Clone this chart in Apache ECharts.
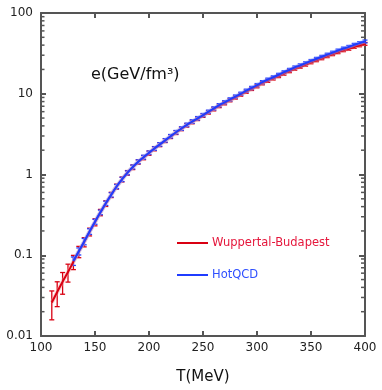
<!DOCTYPE html>
<html>
<head>
<meta charset="utf-8">
<script src="https://cdn.jsdelivr.net/npm/echarts@6/dist/echarts.min.js"></script>
<style>
  html, body { margin: 0; padding: 0; background: #fff; }
  #chart { width: 382px; height: 390px; }
</style>
</head>
<body>
<div id="chart"></div>
<script>
// Data
const redT = [110,115,120,125,130,135,140,145,150,155,160,165,170,175,180,185,190,195,200,205,210,215,220,225,230,235,240,245,250,255,260,265,270,275,280,285,290,295,300,305,310,315,320,325,330,335,340,345,350,355,360,365,370,375,380,385,390,395,400];
const redE = [0.026,0.035,0.047,0.062,0.083,0.111,0.146,0.195,0.257,0.339,0.437,0.56,0.71,0.87,1.05,1.23,1.43,1.62,1.84,2.09,2.34,2.63,2.95,3.31,3.67,4.07,4.47,4.9,5.37,5.89,6.46,7.08,7.67,8.32,9.0,9.77,10.6,11.5,12.4,13.5,14.5,15.5,16.6,17.8,19.1,20.4,21.6,22.9,24.5,26.0,27.5,29.2,30.9,32.7,34.6,36.0,38.0,39.8,41.5];
const redRelErr = [0.39,0.34,0.3,0.25,0.2,0.16,0.13,0.11,0.1,0.09,0.08,0.075,0.07,0.07,0.065,0.065,0.06,0.06,0.06,0.06,0.055,0.055,0.055,0.055,0.05,0.05,0.05,0.05,0.05,0.05,0.05,0.05,0.05,0.045,0.045,0.045,0.045,0.045,0.045,0.045,0.045,0.045,0.045,0.045,0.045,0.04,0.04,0.04,0.04,0.04,0.04,0.04,0.04,0.04,0.04,0.04,0.04,0.04,0.04];

const blueT = [130,135,140,145,150,155,160,165,170,175,180,185,190,195,200,205,210,215,220,225,230,235,240,245,250,255,260,265,270,275,280,285,290,295,300,305,310,315,320,325,330,335,340,345,350,355,360,365,370,375,380,385,390,395,400];
const blueE = [0.085,0.112,0.148,0.197,0.26,0.34,0.44,0.56,0.71,0.87,1.05,1.24,1.44,1.64,1.86,2.1,2.36,2.65,2.98,3.34,3.71,4.12,4.53,4.97,5.45,5.99,6.58,7.22,7.84,8.51,9.23,10.0,10.9,11.8,12.8,13.9,15.0,16.0,17.2,18.5,19.8,21.2,22.5,23.9,25.5,27.1,28.7,30.5,32.3,34.3,36.3,38.1,40.4,42.4,44.4];
const blueRelErr = [0.12,0.1,0.09,0.08,0.07,0.065,0.06,0.06,0.06,0.06,0.055,0.055,0.055,0.055,0.05,0.05,0.05,0.05,0.05,0.05,0.05,0.05,0.05,0.05,0.045,0.045,0.045,0.045,0.045,0.045,0.045,0.045,0.045,0.045,0.045,0.045,0.04,0.04,0.04,0.04,0.04,0.04,0.04,0.04,0.04,0.04,0.04,0.04,0.04,0.04,0.04,0.04,0.04,0.04,0.04];

const yMinorTicks = [0.02,0.03,0.04,0.05,0.06,0.07,0.08,0.09,0.2,0.3,0.4,0.5,0.6,0.7,0.8,0.9,2,3,4,5,6,7,8,9,20,30,40,50,60,70,80,90];

const redColor = "#d90012";
const blueColor = "#1f3cff";
const axisColor = "#555";
const font = "DejaVu Sans";

function pairs(xs, ys) {
  return xs.map((x, i) => [x, ys[i]]);
}
function errData(xs, ys, rel) {
  return xs.map((x, i) => {
    const r = rel[i] != null ? rel[i] : 0.04;
    return [x, ys[i] * (1 - r), ys[i] * (1 + r)];
  });
}
function errRender(color) {
  return function (params, api) {
    const lo = api.coord([api.value(0), api.value(1)]);
    const hi = api.coord([api.value(0), api.value(2)]);
    const w = 2.5;
    const st = { stroke: color, lineWidth: 1.3 };
    return {
      type: "group",
      children: [
        { type: "line", shape: { x1: lo[0], y1: lo[1], x2: hi[0], y2: hi[1] }, style: st },
        { type: "line", shape: { x1: lo[0] - w, y1: lo[1], x2: lo[0] + w, y2: lo[1] }, style: st },
        { type: "line", shape: { x1: hi[0] - w, y1: hi[1], x2: hi[0] + w, y2: hi[1] }, style: st },
      ],
    };
  };
}

const chart = echarts.init(document.getElementById("chart"), null, { renderer: "canvas" });

const xAxisBase = {
  type: "value",
  min: 100,
  max: 400,
  interval: 50,
  axisLine: { show: true, onZero: false, lineStyle: { color: axisColor, width: 2 } },
  axisTick: { show: true, inside: true, length: 5, lineStyle: { color: axisColor, width: 2 } },
  splitLine: { show: false },
};
const yAxisBase = {
  type: "log",
  logBase: 10,
  min: 0.01,
  max: 100,
  axisLine: { show: true, onZero: false, lineStyle: { color: axisColor, width: 2 } },
  axisTick: { show: true, inside: true, length: 5, lineStyle: { color: axisColor, width: 2 } },
  splitLine: { show: false },
};

const option = {
  animation: false,
  grid: { left: 41, right: 17, top: 13, bottom: 53 },
  title: {
    text: "e(GeV/fm³)",
    left: 86,
    top: 62,
    textStyle: { fontFamily: font, fontSize: 16, fontWeight: "normal", color: "#111" },
  },
  legend: {
    orient: "vertical",
    left: 172,
    top: 232,
    itemWidth: 31,
    itemHeight: 2,
    itemGap: 20,
    icon: "rect",
    selectedMode: false,
    textStyle: { fontFamily: font, fontSize: 11.5, padding: [0, 0, 0, -1] },
    data: [
      { name: "Wuppertal-Budapest", textStyle: { color: "#e5173c" } },
      { name: "HotQCD", textStyle: { color: "#2f50ff" } },
    ],
  },
  xAxis: [
    Object.assign({}, xAxisBase, {
      position: "bottom",
      name: "T(MeV)",
      nameLocation: "middle",
      nameGap: 34,
      nameTextStyle: { fontFamily: font, fontSize: 15, color: "#111" },
      axisLabel: { fontFamily: font, fontSize: 12, color: "#222", margin: 6 },
    }),
    Object.assign({}, xAxisBase, { position: "top", axisLabel: { show: false } }),
  ],
  yAxis: [
    Object.assign({}, yAxisBase, {
      position: "left",
      axisLabel: {
        fontFamily: font,
        fontSize: 12,
        color: "#222",
        margin: 8,
        formatter: (v) => String(parseFloat(Number(v).toPrecision(3))),
      },
    }),
    Object.assign({}, yAxisBase, {
      position: "right",
      axisLabel: { show: false },
      axisTick: { show: true, inside: true, length: 6, lineStyle: { color: axisColor, width: 2 } },
    }),
  ],
  series: [
    // minor log ticks on left and right frame
    {
      type: "custom",
      silent: true,
      clip: false,
      xAxisIndex: 0,
      yAxisIndex: 0,
      data: yMinorTicks.map((v) => [100, v]),
      renderItem: function (params, api) {
        const l = api.coord([100, api.value(1)]);
        const r = api.coord([400, api.value(1)]);
        const st = { stroke: axisColor, lineWidth: 1.5 };
        return {
          type: "group",
          children: [
            { type: "line", shape: { x1: l[0], y1: l[1], x2: l[0] + 3.5, y2: l[1] }, style: st },
            { type: "line", shape: { x1: r[0] - 4, y1: r[1], x2: r[0], y2: r[1] }, style: st },
          ],
        };
      },
    },
    // red halo
    {
      name: "wb-band",
      type: "line",
      smooth: true,
      symbol: "none",
      silent: true,
      data: pairs(redT, redE),
      lineStyle: { color: "#f29a9a", width: 4, opacity: 0.45 },
    },
    {
      name: "Wuppertal-Budapest",
      type: "line",
      smooth: true,
      symbol: "none",
      color: redColor,
      itemStyle: { color: redColor },
      data: pairs(redT, redE),
      lineStyle: { color: redColor, width: 2 },
    },
    {
      name: "wb-err",
      type: "custom",
      silent: true,
      data: errData(redT, redE, redRelErr),
      renderItem: errRender(redColor),
    },
    // blue halo
    {
      name: "hot-band",
      type: "line",
      smooth: true,
      symbol: "none",
      silent: true,
      data: pairs(blueT, blueE),
      lineStyle: { color: "#8ea2ff", width: 4, opacity: 0.45 },
    },
    {
      name: "HotQCD",
      type: "line",
      smooth: true,
      symbol: "none",
      color: blueColor,
      itemStyle: { color: blueColor },
      data: pairs(blueT, blueE),
      lineStyle: { color: blueColor, width: 2 },
    },
    {
      name: "hot-err",
      type: "custom",
      silent: true,
      data: errData(blueT, blueE, blueRelErr),
      renderItem: errRender(blueColor),
    },
  ],
};

chart.setOption(option);
</script>
</body>
</html>
